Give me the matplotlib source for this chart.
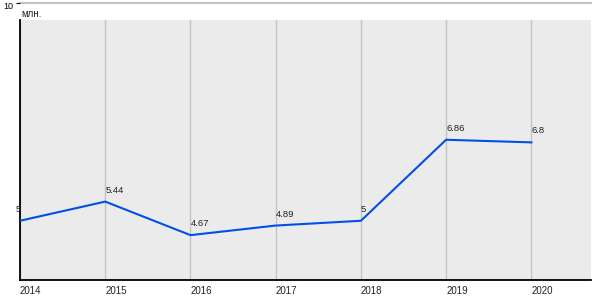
import matplotlib.pyplot as plt
import matplotlib.transforms as mtransforms

plt.rcParams['font.family'] = ['Liberation Sans', 'DejaVu Sans']

years = [2014, 2015, 2016, 2017, 2018, 2019, 2020]
values = [5, 5.44, 4.67, 4.89, 5, 6.86, 6.8]
point_labels = ["5", "5.44", "4.67", "4.89", "5", "6.86", "6.8"]

ymin, ymax, bg_top = 3.64, 10, 9.61

fig = plt.figure(figsize=(6, 3), dpi=100)
ax = fig.add_axes([20 / 600, 20 / 300, 571 / 600, 277 / 300])
ax.set_xlim(2014, 2020.7)
ax.set_ylim(ymin, ymax)

# gray plot area and grid
ax.axhspan(ymin, bg_top, color="#ebebeb", zorder=0, lw=0)
for y in years:
    ax.plot([y, y], [ymin, bg_top], color="#c4c4c4", lw=1, zorder=1)
ax.axhline(10, color="#c4c4c4", lw=1.5, zorder=1, clip_on=False)

ax.plot(years, values, color="#0050e6", lw=1.5, zorder=3)
for x, v, s in zip(years, values, point_labels):
    ax.annotate(s, (x, v), xytext=(-3 if x == 2014 else 0, 5), textcoords="offset points",
                ha="left", va="bottom", fontsize=6.8, color="#222222", zorder=4)

for side in ["top", "right"]:
    ax.spines[side].set_visible(False)
ax.spines["left"].set_bounds(ymin, bg_top)
ax.spines["left"].set_linewidth(1.3)
ax.spines["bottom"].set_linewidth(1.3)

ax.set_xticks(years)
ax.set_xticklabels([str(y) for y in years], ha="left", fontsize=7, color="#222222")
ax.tick_params(axis="x", length=0, pad=4)
ax.set_yticks([10])
ax.set_yticklabels(["10"], fontsize=6.5)
ax.tick_params(axis="y", length=3, pad=2)
# nudge "10" down a little so it stays inside the picture
shift = mtransforms.ScaledTranslation(0, -1.5 / 72, fig.dpi_scale_trans)
for lbl in ax.get_yticklabels():
    lbl.set_transform(lbl.get_transform() + shift)

ax.text(0.003, 0.962, "млн.", transform=ax.transAxes, fontsize=7, color="#222222",
        ha="left", va="center")

fig.savefig("out.png", dpi=100)
